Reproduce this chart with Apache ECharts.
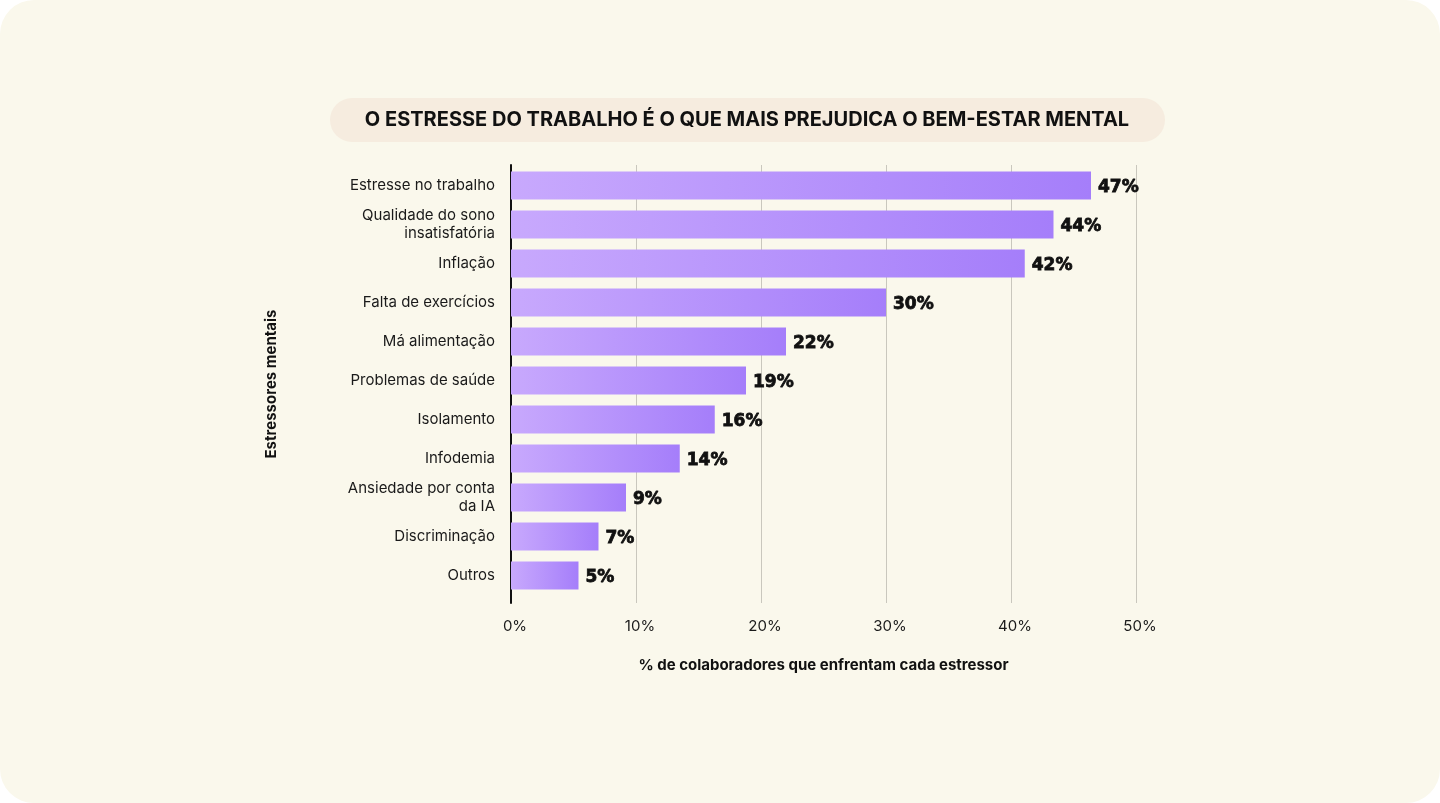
<!DOCTYPE html>
<html>
<head>
<meta charset="utf-8">
<script src="https://cdn.jsdelivr.net/npm/echarts@6/dist/echarts.min.js"></script>
<style>
  html, body { margin: 0; padding: 0; background: #ffffff; width: 1440px; height: 803px; overflow: hidden; }
  #card { position: absolute; left: 0; top: 0; width: 1440px; height: 803px; background: #faf8ec; border-radius: 34px; }
  #chart { width: 1440px; height: 803px; }
</style>
</head>
<body>
<div id="card"><div id="chart"></div></div>
<script>
const title = 'O ESTRESSE DO TRABALHO É O QUE MAIS PREJUDICA O BEM-ESTAR MENTAL';
const categories = [
  'Estresse no trabalho',
  'Qualidade do sono\ninsatisfatória',
  'Inflação',
  'Falta de exercícios',
  'Má alimentação',
  'Problemas de saúde',
  'Isolamento',
  'Infodemia',
  'Ansiedade por conta\nda IA',
  'Discriminação',
  'Outros'
];
const values = [46.4, 43.4, 41.1, 30.0, 22.0, 18.8, 16.3, 13.5, 9.2, 7.0, 5.4];
const valueLabels = ['47%', '44%', '42%', '30%', '22%', '19%', '16%', '14%', '9%', '7%', '5%'];
const xTicks = [0, 10, 20, 30, 40, 50];
const xAxisName = '% de colaboradores que enfrentam cada estressor';
const yAxisName = 'Estressores mentais';

const chart = echarts.init(document.getElementById('chart'), null, { renderer: 'canvas' });
const font = 'Inter, "Noto Sans", sans-serif';

chart.setOption({
  backgroundColor: 'transparent',
  animation: false,
  graphic: [
    {
      type: 'rect',
      shape: { x: 330, y: 98, width: 835, height: 44, r: 22 },
      style: { fill: '#f6ecdf' },
      z: 0
    },
    {
      type: 'text',
      x: 747, y: 120,
      style: {
        text: title,
        fontFamily: font,
        fontWeight: 700,
        fontSize: 20,
        fill: '#111111',
        align: 'center',
        verticalAlign: 'middle'
      },
      z: 1
    }
  ],
  grid: [
    { left: 511, right: 304, top: 165, height: 438 },
    { left: 511, right: 304, top: 166, height: 429 }
  ],
  xAxis: [
    {
      gridIndex: 0,
      type: 'value',
      min: xTicks[0],
      max: xTicks[xTicks.length - 1],
      interval: xTicks[1] - xTicks[0],
      axisLine: { show: false },
      axisTick: { show: false },
      splitLine: { show: true, lineStyle: { color: '#c9c7bd', width: 1 } },
      axisLabel: {
        formatter: '{value}%',
        margin: 16,
        padding: [0, 0, 0, 8],
        fontFamily: font,
        fontSize: 15,
        color: '#1a1a1a'
      },
      name: xAxisName,
      nameLocation: 'middle',
      nameGap: 55,
      nameTextStyle: { fontFamily: font, fontWeight: 700, fontSize: 15, color: '#111111' }
    },
    {
      gridIndex: 1,
      type: 'value',
      min: xTicks[0],
      max: xTicks[xTicks.length - 1],
      show: false
    }
  ],
  yAxis: [
    {
      gridIndex: 0,
      type: 'value',
      min: 0, max: 1,
      axisLine: { show: true, onZero: false, lineStyle: { color: '#111111', width: 2 } },
      axisTick: { show: false },
      axisLabel: { show: false },
      splitLine: { show: false },
      name: yAxisName,
      nameLocation: 'middle',
      nameRotate: 90,
      nameGap: 232,
      nameTextStyle: { fontFamily: font, fontWeight: 700, fontSize: 15, color: '#111111' }
    },
    {
      gridIndex: 1,
      type: 'category',
      data: categories,
      inverse: true,
      axisLine: { show: false },
      axisTick: { show: false },
      splitLine: { show: false },
      axisLabel: {
        margin: 16,
        fontFamily: font,
        fontSize: 15,
        lineHeight: 18,
        color: '#1a1a1a',
        align: 'right'
      }
    }
  ],
  series: [
    {
      type: 'bar',
      xAxisIndex: 1,
      yAxisIndex: 1,
      data: values,
      barWidth: 28,
      itemStyle: {
        color: new echarts.graphic.LinearGradient(0, 0, 1, 0, [
          { offset: 0, color: '#c8a9fd' },
          { offset: 1, color: '#a57efa' }
        ])
      },
      label: {
        show: true,
        position: 'right',
        distance: 7,
        offset: [0, 2],
        formatter: (p) => valueLabels[p.dataIndex],
        fontFamily: '"DejaVu Sans", sans-serif',
        fontWeight: 'bold',
        fontSize: 17,
        color: '#111111',
        textBorderColor: '#111111',
        textBorderWidth: 0.8
      },
      z: 3
    }
  ]
});
</script>
</body>
</html>
